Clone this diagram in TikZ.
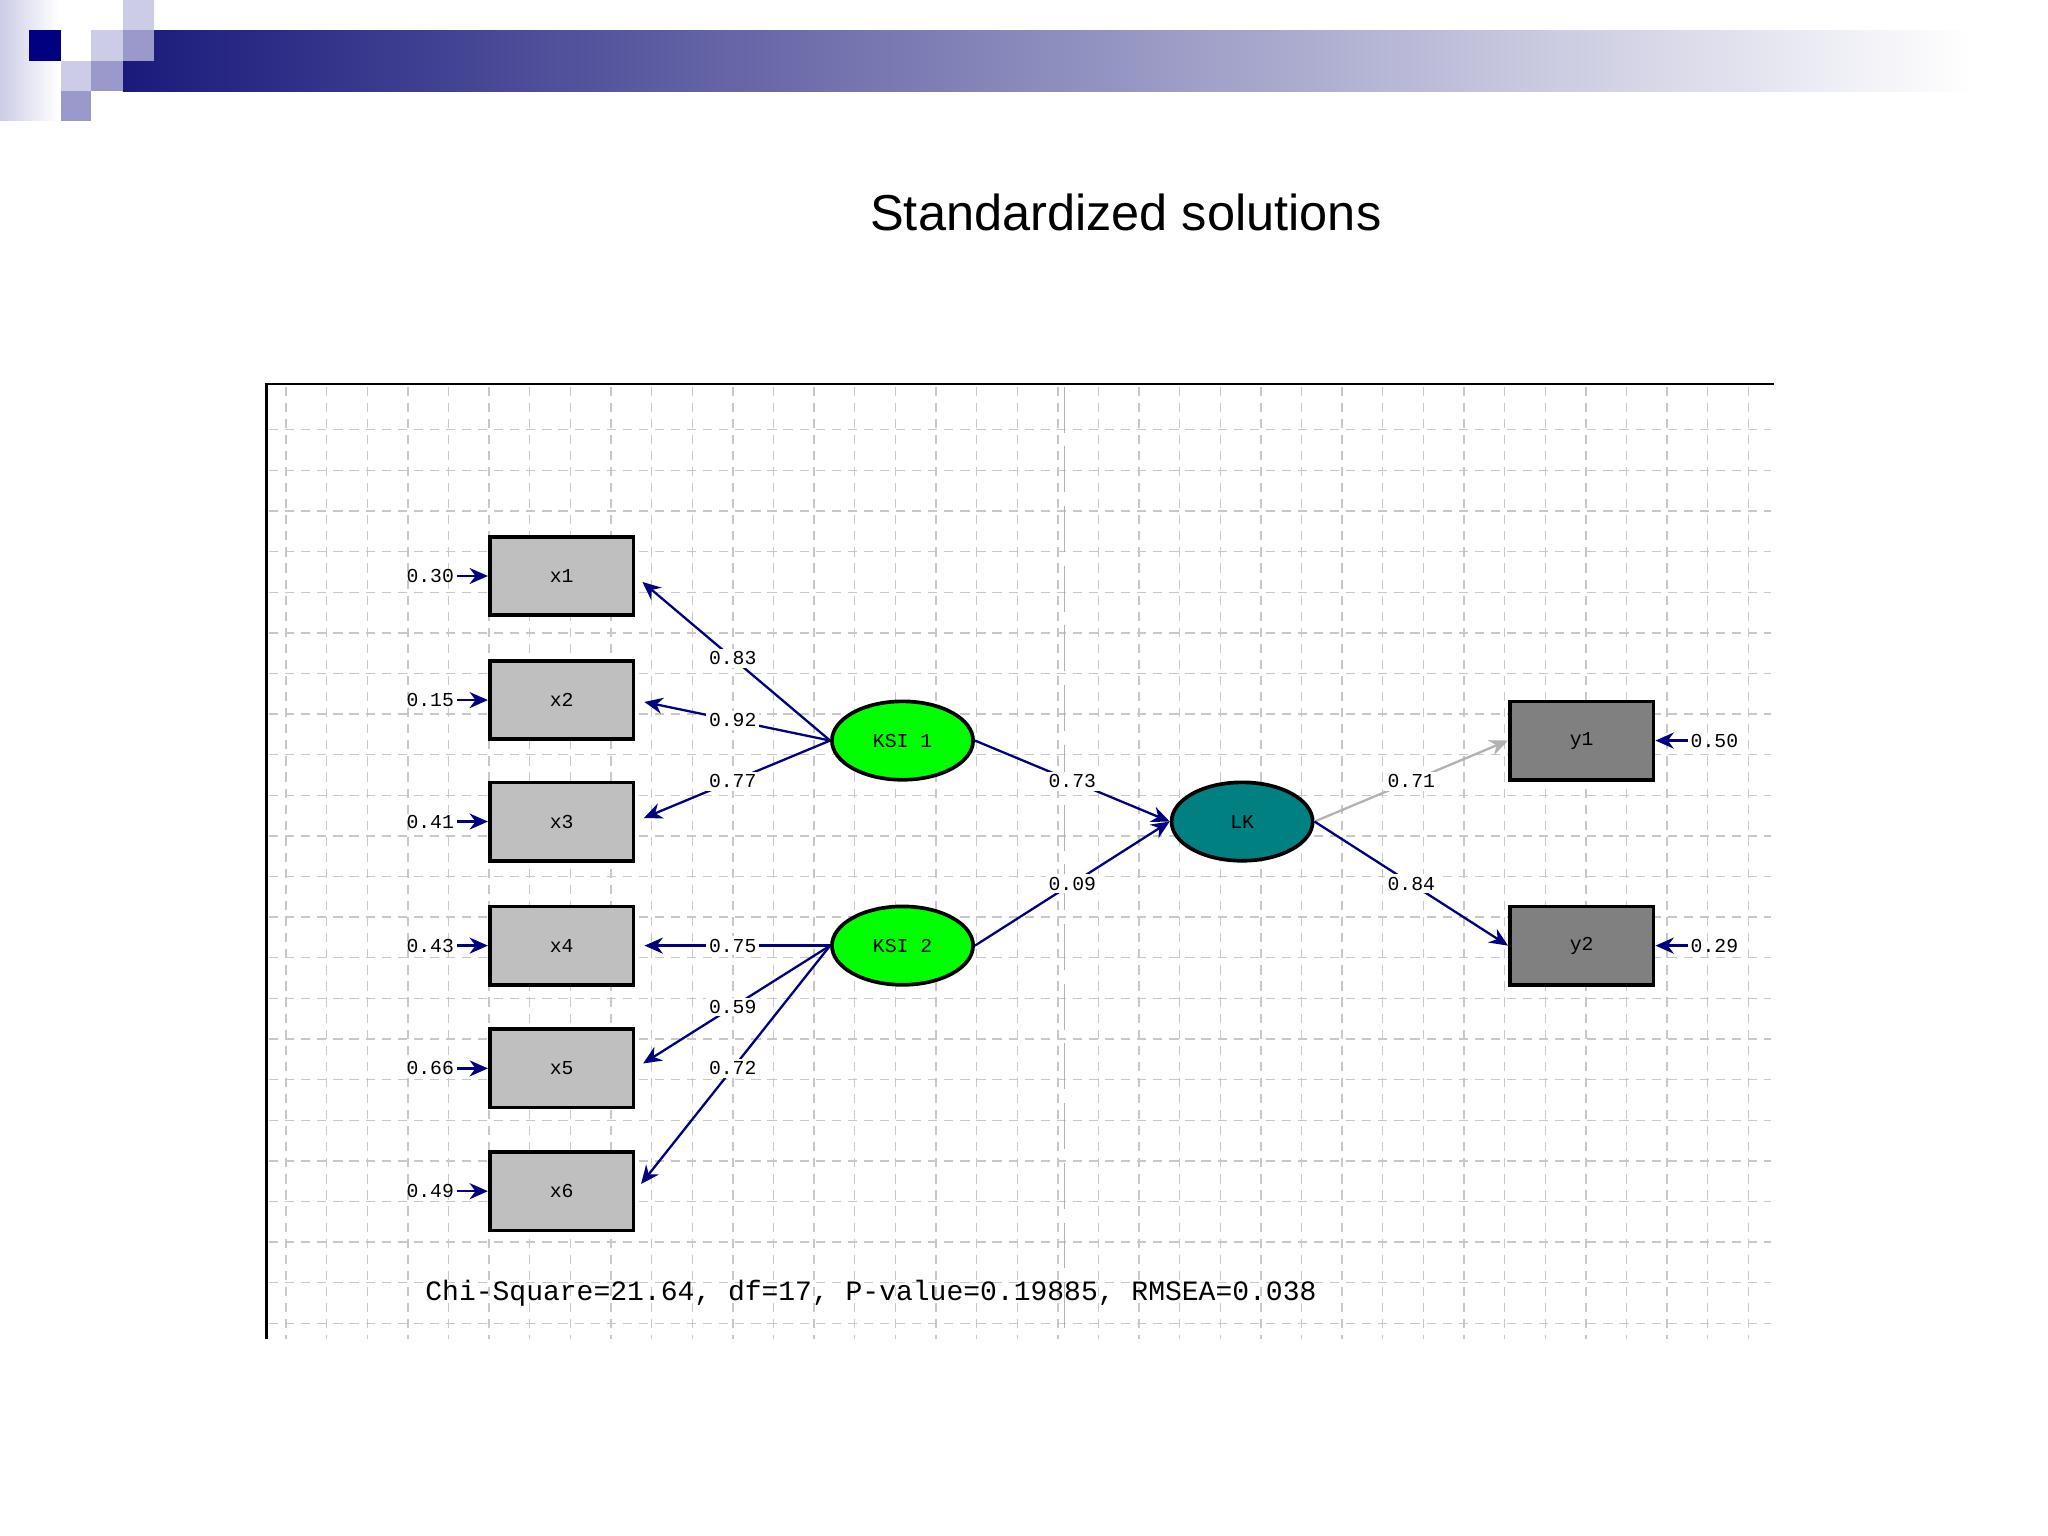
\documentclass[tikz,border=0pt]{standalone}
\usepackage{fontspec}
\setmainfont{Liberation Sans}
\newfontfamily\monof{Liberation Mono}
\usetikzlibrary{shapes.geometric,arrows.meta}
\definecolor{navy}{HTML}{000080}
\definecolor{barblue}{HTML}{1A1A7C}
\definecolor{lav}{HTML}{CCCCE6}
\definecolor{lavm}{HTML}{9999CC}
\definecolor{gridc}{HTML}{C8C8C8}
\tikzset{
 obsbox/.style={draw=black,thick,fill=#1,minimum width=1.1cm,minimum height=0.6cm,inner sep=0pt,font=\monof\fontsize{4.3}{5}\selectfont},
 latent/.style={ellipse,draw=black,thick,fill=#1,minimum width=1.08cm,minimum height=0.6cm,inner sep=0pt,font=\monof\fontsize{4.3}{5}\selectfont},
 arr/.style={draw=navy,line width=0.5pt,-{Stealth[length=4pt,width=3.5pt]}},
 lab/.style={fill=white,inner sep=0.6pt,font=\monof\fontsize{4.3}{5}\selectfont},
 txt/.style={inner sep=0.5pt,font=\monof\fontsize{4.3}{5}\selectfont},
 gridline/.style={gridc,dash pattern=on 2pt off 1.5pt,line width=0.3pt},
}
\begin{document}
\begin{tikzpicture}[x=0.01cm,y=-0.01cm]
\useasboundingbox (0,0) rectangle (1568,1176);
\fill[white] (0,0) rectangle (1568,1176);
% banner
\shade[left color=lav,right color=white] (0,0) rectangle (45,92);
\shade[left color=barblue,right color=white] (94,23) rectangle (1510,70);
\fill[navy] (22,23) rectangle (47,47);
\fill[lav] (94,0) rectangle (118,23);
\fill[lav] (70,23) rectangle (94,47);
\fill[lavm] (94,23) rectangle (118,47);
\fill[lav] (47,47) rectangle (70,70);
\fill[lavm] (70,47) rectangle (94,70);
\fill[lavm] (47,70) rectangle (70,93);
\node[font=\fontsize{11}{13}\selectfont] (title) at (862,163) {Standardized solutions};
% grid
\foreach \i in {0,...,36} {\draw[gridline] (219+31.1*\i,296) -- (219+31.1*\i,1025);}
\foreach \j in {0,...,22} {\draw[gridline] (206,329+31.1*\j) -- (1356,329+31.1*\j);}
\draw[gray!60,dash pattern=on 10pt off 3pt,line width=0.4pt] (815,296) -- (815,1025);
\draw[black,line width=0.6pt] (204,1025) -- (204,294) -- (1358,294);
% nodes
\node[obsbox=gray!50] (x1) at (430,441) {x1};
\node[obsbox=gray!50] (x2) at (430,536) {x2};
\node[obsbox=gray!50] (x3) at (430,629) {x3};
\node[obsbox=gray!50] (x4) at (430,724) {x4};
\node[obsbox=gray!50] (x5) at (430,818) {x5};
\node[obsbox=gray!50] (x6) at (430,912) {x6};
\node[obsbox=gray] (y1) at (1211,567) {y1};
\node[obsbox=gray] (y2) at (1211,724) {y2};
\node[latent=green] (k1) at (691,567) {KSI 1};
\node[latent=green] (k2) at (691,724) {KSI 2};
\node[latent={teal}] (lk) at (951,629) {LK};
% loadings
\draw[arr,shorten >=2pt] (k1.west) -- node[lab]{0.83} (x1.east);
\draw[arr,shorten >=2pt] (k1.west) -- node[lab]{0.92} (x2.east);
\draw[arr,shorten >=2pt] (k1.west) -- node[lab]{0.77} (x3.east);
\draw[arr,shorten >=2pt] (k2.west) -- node[lab]{0.75} (x4.east);
\draw[arr,shorten >=2pt] (k2.west) -- node[lab]{0.59} (x5.east);
\draw[arr,shorten >=2pt] (k2.west) -- node[lab]{0.72} (x6.east);
\draw[arr] (k1.east) -- node[lab]{0.73} (lk.west);
\draw[arr] (k2.east) -- node[lab]{0.09} (lk.west);
\draw[arr,draw=gray!60] (lk.east) -- node[lab]{0.71} (y1.west);
\draw[arr] (lk.east) -- node[lab]{0.84} (y2.west);
% errors
\foreach \n/\v/\y in {x1/0.30/441,x2/0.15/536,x3/0.41/629,x4/0.43/724,x5/0.66/818,x6/0.49/912} {
  \coordinate (e\n) at (350,\y);
  \node[txt,anchor=east] (t\n) at (e\n) {\v};
  \draw[arr] (e\n) -- (\n.west);
}
\coordinate (ey1) at (1292,567);
\node[txt,anchor=west] (ty1) at (ey1) {0.50};
\draw[arr] (ey1) -- (y1.east);
\coordinate (ey2) at (1292,724);
\node[txt,anchor=west] (ty2) at (ey2) {0.29};
\draw[arr] (ey2) -- (y2.east);
\node[anchor=west,inner sep=0pt,font=\monof\fontsize{6.1}{7}\selectfont] (fit) at (325,990) {Chi-Square=21.64, df=17, P-value=0.19885, RMSEA=0.038};
\end{tikzpicture}
\end{document}
